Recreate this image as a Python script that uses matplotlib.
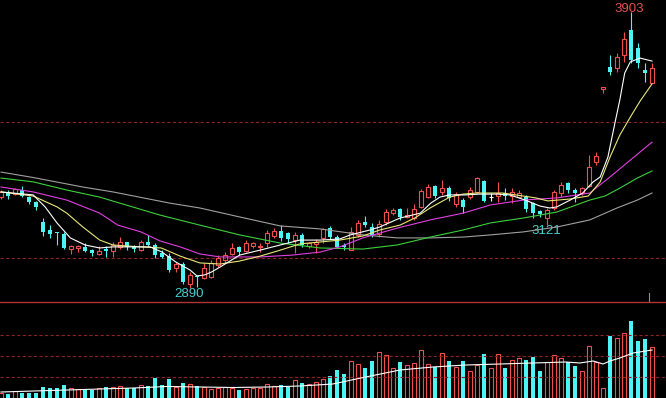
import matplotlib.pyplot as plt

# daily candles, index 0 = leftmost bar
opens = [3224, 3243, 3235, 3250, 3224, 3206, 3132, 3103, 3096, 3088,
         3033, 3037, 3041, 3029, 3015, 3033, 3026, 3041, 3059, 3041,
         3029, 3059, 3048, 3018, 3007, 2963, 2978, 2905, 2934, 2927,
         2930, 2974, 2993, 3015, 3041, 3026, 3044, 3041, 3055, 3081,
         3099, 3092, 3066, 3085, 3044, 3052, 3074, 3110, 3077, 3048,
         3029, 3085, 3132, 3114, 3088, 3132, 3165, 3180, 3151, 3147,
         3188, 3224, 3265, 3243, 3257, 3199, 3213, 3224, 3243, 3283,
         3224, 3228, 3239, 3228, 3224, 3224, 3202, 3173, 3147, 3184,
         3239, 3276, 3250, 3239, 3265, 3353, 3621, 3702, 3699, 3746,
         3838, 3772, 3691, 3643]
highs = [3250, 3250, 3257, 3265, 3228, 3210, 3147, 3121, 3096, 3096,
         3048, 3048, 3055, 3033, 3044, 3044, 3059, 3077, 3059, 3048,
         3066, 3085, 3055, 3029, 3018, 2985, 2985, 2949, 2938, 2982,
         2993, 3011, 3022, 3055, 3044, 3066, 3059, 3055, 3103, 3110,
         3121, 3096, 3096, 3092, 3059, 3070, 3110, 3118, 3085, 3055,
         3114, 3140, 3154, 3129, 3140, 3180, 3184, 3184, 3184, 3199,
         3254, 3272, 3268, 3287, 3265, 3243, 3221, 3261, 3298, 3287,
         3239, 3279, 3257, 3257, 3250, 3232, 3206, 3177, 3184, 3250,
         3279, 3279, 3257, 3261, 3379, 3390, 3629, 3746, 3754, 3831,
         3903, 3790, 3717, 3717]
lows = [3217, 3217, 3232, 3224, 3199, 3177, 3081, 3074, 3048, 3033,
        3015, 3022, 3022, 3007, 3011, 3004, 3004, 3033, 3029, 3022,
        3026, 3044, 3000, 3000, 2949, 2949, 2905, 2890, 2893, 2923,
        2927, 2967, 2982, 3011, 3011, 3022, 3037, 3022, 3041, 3074,
        3063, 3055, 3018, 3041, 3037, 3018, 3055, 3070, 3037, 3029,
        3029, 3077, 3114, 3077, 3077, 3121, 3158, 3140, 3147, 3140,
        3184, 3221, 3221, 3232, 3210, 3188, 3165, 3217, 3239, 3206,
        3210, 3206, 3213, 3202, 3221, 3169, 3147, 3151, 3121, 3177,
        3224, 3239, 3206, 3232, 3261, 3342, 3607, 3673, 3684, 3721,
        3717, 3699, 3647, 3643]
closes = [3243, 3228, 3254, 3228, 3206, 3188, 3096, 3088, 3092, 3037,
          3044, 3044, 3026, 3018, 3026, 3026, 3048, 3059, 3041, 3033,
          3059, 3048, 3011, 3004, 2956, 2978, 2912, 2938, 2930, 2963,
          2982, 3000, 3011, 3037, 3022, 3055, 3055, 3044, 3092, 3099,
          3074, 3070, 3085, 3048, 3055, 3059, 3107, 3077, 3041, 3041,
          3096, 3129, 3121, 3085, 3125, 3169, 3177, 3151, 3158, 3180,
          3246, 3261, 3228, 3257, 3221, 3235, 3188, 3250, 3294, 3210,
          3224, 3239, 3228, 3243, 3239, 3180, 3165, 3162, 3177, 3243,
          3268, 3250, 3239, 3257, 3335, 3375, 3629, 3684, 3739, 3805,
          3728, 3717, 3680, 3699]
volumes = [250, 200, 350, 250, 250, 250, 550, 500, 500, 650,
           500, 450, 400, 400, 500, 550, 550, 600, 500, 500,
           650, 600, 1000, 650, 950, 550, 750, 700, 600, 550,
           450, 500, 550, 500, 400, 450, 500, 500, 700, 600,
           650, 550, 900, 750, 700, 800, 950, 1100, 1400, 1200,
           1850, 1700, 1500, 1850, 2300, 2150, 1500, 1800, 1650, 1750,
           2400, 1700, 1550, 2250, 1850, 1550, 1850, 1350, 1650, 2200,
           1500, 2200, 1500, 1900, 2000, 1900, 2050, 1350, 1800, 2150,
           2000, 1800, 1600, 1350, 2600, 1800, 500, 3100, 3000, 3250,
           3850, 2850, 2950, 2550]

# moving averages (position in bars, value)
ma5_x = [0, 4.6, 6.3, 8, 9.9, 12, 14.1, 16, 19.9, 21.3, 23, 25, 27, 28, 29.1,
         30.1, 31.3, 34.1, 37, 39.9, 42.7, 45.6, 48.4, 49.9, 52.7, 54.1, 57,
         59.9, 61.4, 62.7, 64.1, 66.3, 68.4, 70.9, 72.7, 74.9, 77, 78.4, 79.4,
         81.3, 83.1, 84.6, 85.6, 86.7, 87.7, 88.4, 89.1, 89.9, 91.3, 93]
ma5_y = [3243, 3232, 3188, 3129, 3074, 3048, 3037, 3041, 3041, 3041, 3022,
         2985, 2956, 2934, 2938, 2949, 2967, 3011, 3029, 3048, 3066, 3066,
         3070, 3085, 3103, 3114, 3147, 3165, 3202, 3224, 3232, 3232, 3235,
         3235, 3232, 3213, 3191, 3184, 3188, 3213, 3239, 3280, 3298, 3371,
         3496, 3581, 3680, 3721, 3735, 3724]
ma10_x = [0, 4.6, 8, 9.4, 11.7, 14.1, 16, 19.9, 22.9, 25.6, 28.4, 31.3, 34.1,
          37, 39.9, 42.7, 45.6, 48.4, 51.7, 54.1, 57, 59.1, 61.3, 64.1, 66,
          67.9, 71.7, 76.4, 78.1, 81.3, 83.9, 85.6, 87, 88.4, 89.9, 91.3, 93]
ma10_y = [3243, 3228, 3188, 3165, 3114, 3066, 3048, 3041, 3037, 3007, 2982,
          2978, 2989, 3007, 3029, 3052, 3059, 3066, 3081, 3103, 3121, 3147,
          3184, 3224, 3235, 3239, 3239, 3221, 3210, 3217, 3228, 3280, 3371,
          3452, 3518, 3577, 3640]
ma20_x = [0, 4.6, 9.4, 14.1, 16.7, 20, 22.7, 25.6, 28.4, 31.3, 37, 41.7,
          45.6, 48.4, 51.7, 56.6, 61.3, 66, 69.9, 74.6, 79.4, 84.1, 87,
          89.9, 93]
ma20_y = [3261, 3243, 3213, 3165, 3121, 3096, 3063, 3041, 3015, 3004, 3004,
          3011, 3022, 3041, 3074, 3110, 3140, 3165, 3195, 3213, 3221, 3239,
          3298, 3360, 3426]
ma30_x = [0, 4.6, 9.4, 14.1, 15.9, 22.7, 28.4, 34.1, 39.9, 45.6, 51.7, 56.6,
          61.3, 66, 69.9, 74.6, 79.4, 84.1, 86.3, 88.4, 90.9, 93]
ma30_y = [3294, 3280, 3250, 3224, 3210, 3158, 3121, 3085, 3055, 3037, 3033,
          3048, 3077, 3103, 3129, 3147, 3169, 3213, 3228, 3257, 3294, 3320]
ma60_x = [0, 4.6, 11.7, 16, 24.1, 28.4, 34.1, 39.9, 45.6, 51.7, 56.6, 61.3,
          66, 69.9, 74.6, 79.4, 84.1, 88, 90.9, 93]
ma60_y = [3316, 3296, 3261, 3243, 3202, 3184, 3151, 3118, 3107, 3085, 3074,
          3074, 3077, 3085, 3096, 3114, 3140, 3184, 3213, 3239]
vol_ma_x = [0, 9.4, 18.9, 23.7, 33.1, 38, 42.7, 47.4, 52.1, 57, 61.7, 66.4,
            71.3, 76, 80.7, 82.7, 84.6, 86, 87, 88.4, 90.3, 93]
vol_ma_y = [300, 400, 500, 575, 525, 550, 600, 700, 1050, 1400, 1550, 1650,
            1700, 1750, 1800, 1750, 1850, 1700, 1850, 2000, 2250, 2400]

RED = '#f0504c'
CYAN = '#4cf4f4'
GRID = '#8a2424'

fig = plt.figure(figsize=(6.66, 3.98), dpi=100, facecolor='black')
ax = fig.add_axes([0, 96 / 398, 1, 302 / 398])
vax = fig.add_axes([0, 0, 1, 96 / 398])

n = len(closes)
xs = list(range(n))
w = 0.7

for i in xs:
    o, h, l, c = opens[i], highs[i], lows[i], closes[i]
    top, bot = max(o, c), min(o, c)
    if c > o:
        ax.vlines(i, top, h, color=RED, lw=0.8, zorder=2)
        ax.vlines(i, l, bot, color=RED, lw=0.8, zorder=2)
        ax.bar(i, top - bot, bottom=bot, width=w, fill=False,
               edgecolor=RED, linewidth=0.8, zorder=3)
    elif c < o:
        ax.vlines(i, l, h, color=CYAN, lw=0.8, zorder=2)
        ax.bar(i, top - bot, bottom=bot, width=w, color=CYAN,
               linewidth=0, zorder=3)
    else:
        ax.vlines(i, l, h, color='white', lw=0.8, zorder=2)
        ax.hlines(c, i - w / 2, i + w / 2, color='white', lw=0.8, zorder=3)

    if c >= o:
        vax.bar(i, volumes[i], width=w, fill=False, edgecolor=RED,
                linewidth=0.8)
    else:
        vax.bar(i, volumes[i], width=w, color=CYAN, linewidth=0)

# moving average lines
ax.plot(ma60_x, ma60_y, color='#a0a0a0', lw=0.8, zorder=4)
ax.plot(ma30_x, ma30_y, color='#3cd03c', lw=0.8, zorder=4)
ax.plot(ma20_x, ma20_y, color='#e040e0', lw=0.8, zorder=4)
ax.plot(ma10_x, ma10_y, color='#e8e878', lw=0.8, zorder=4)
ax.plot(ma5_x, ma5_y, color='white', lw=0.8, zorder=5)
vax.plot(vol_ma_x, vol_ma_y, color='white', lw=0.8, zorder=4)

# dashed reference levels
for lvl in [3500, 3000]:
    ax.axhline(lvl, color=GRID, lw=0.8, ls=(0, (3, 2)), zorder=1)
for lvl in [1050, 2100, 3150]:
    vax.axhline(lvl, color=GRID, lw=0.8, ls=(0, (3, 2)), zorder=1)

# high / low labels
hi = highs.index(max(highs))
lo = lows.index(min(lows))
ax.annotate(f'{max(highs)}', xy=(hi, max(highs)), xytext=(-2, 0),
            textcoords='offset pixels', ha='center', va='baseline',
            color='#e85050', fontsize=9.5, family='Liberation Sans')
ax.annotate(f'{min(lows)}', xy=(lo, min(lows)), xytext=(-1, 0),
            textcoords='offset pixels', ha='center', va='top',
            color='#48d0d0', fontsize=9.5, family='Liberation Sans')
ax.annotate('3121', xy=(78, lows[78]), xytext=(-1, 0),
            textcoords='offset pixels', ha='center', va='top',
            color='#48d0d0', fontsize=9.5, family='Liberation Sans')

# little cursor tick near the last bar
ax.axvline(92.6, ymin=0, ymax=9 / 302, color='#909090', lw=0.8)

for a in (ax, vax):
    a.set_facecolor('black')
    a.set_xlim(-1 / 7, 665 / 7)
    a.set_xticks([])
    a.set_yticks([])
    for s in a.spines.values():
        s.set_visible(False)

ax.set_ylim(2838.4, 3948.5)
vax.set_ylim(0, 4800)
vax.spines['top'].set_visible(True)
vax.spines['top'].set_color('#b03434')
vax.spines['top'].set_linewidth(1.0)

fig.savefig('out.png', dpi=100, facecolor='black')
